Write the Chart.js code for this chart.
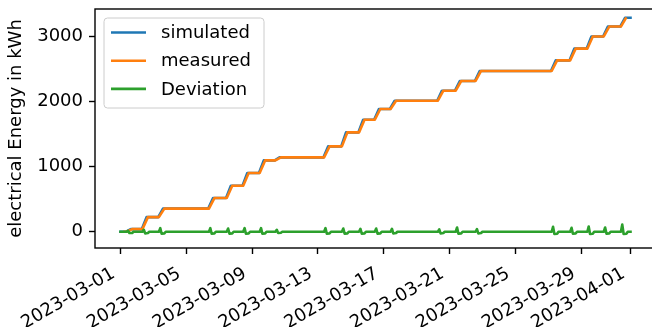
<!DOCTYPE html>
<html>
<head>
<meta charset="utf-8">
<script src="https://cdn.jsdelivr.net/npm/chart.js@4.4.1/dist/chart.umd.min.js"></script>
<style>
  html, body { margin: 0; padding: 0; background: #fff; overflow: hidden; }
  #wrap { width: 652px; height: 327px; overflow: hidden; }
  canvas { display: block; }
</style>
</head>
<body>
<div id="wrap"><canvas id="energy" width="662" height="327"></canvas></div>
<script>
// ---- data -------------------------------------------------------------
const START = '2023-03-01 00:00';

const xTickLabels = ['2023-03-01', '2023-03-05', '2023-03-09', '2023-03-13', '2023-03-17',
                     '2023-03-21', '2023-03-25', '2023-03-29', '2023-04-01'];
const yTickValues = [0, 1000, 2000, 3000];

const simulatedTimes = [
  '2023-03-01 00:00', '2023-03-01 08:00', '2023-03-01 15:00',
  '2023-03-02 07:00', '2023-03-02 14:00', '2023-03-03 07:00', '2023-03-03 14:00',
  '2023-03-06 08:00', '2023-03-06 15:00', '2023-03-07 10:00', '2023-03-07 17:00',
  '2023-03-08 10:00', '2023-03-08 17:00', '2023-03-09 10:00', '2023-03-09 17:00',
  '2023-03-10 09:00', '2023-03-10 16:00', '2023-03-13 08:00', '2023-03-13 15:00',
  '2023-03-14 10:00', '2023-03-14 17:00', '2023-03-15 11:00', '2023-03-15 18:00',
  '2023-03-16 10:00', '2023-03-16 17:00', '2023-03-17 09:00', '2023-03-17 16:00',
  '2023-03-20 06:00', '2023-03-20 13:00', '2023-03-21 08:00', '2023-03-21 15:00',
  '2023-03-22 13:00', '2023-03-22 20:00', '2023-03-27 04:00', '2023-03-27 11:00',
  '2023-03-28 07:00', '2023-03-28 14:00', '2023-03-29 08:00', '2023-03-29 15:00',
  '2023-03-30 08:00', '2023-03-30 15:00', '2023-03-31 09:00', '2023-03-31 16:00',
  '2023-04-01 00:00'
];
const simulatedValues = [
  0, 0, 40,
  40, 225, 225, 355,
  355, 518, 518, 708,
  708, 903, 903, 1097,
  1097, 1143, 1143, 1313,
  1313, 1528, 1528, 1723,
  1723, 1887, 1887, 2015,
  2015, 2169, 2169, 2318,
  2318, 2472, 2472, 2635,
  2635, 2815, 2815, 3003,
  3003, 3155, 3155, 3290,
  3290
];

const measuredTimes = [
  '2023-03-01 06:00', '2023-03-01 09:00', '2023-03-01 17:00',
  '2023-03-02 08:00', '2023-03-02 16:00', '2023-03-03 08:00', '2023-03-03 16:00',
  '2023-03-06 09:00', '2023-03-06 17:00', '2023-03-07 11:00', '2023-03-07 19:00',
  '2023-03-08 11:00', '2023-03-08 19:00', '2023-03-09 11:00', '2023-03-09 19:00',
  '2023-03-10 10:00', '2023-03-10 18:00', '2023-03-13 09:00', '2023-03-13 17:00',
  '2023-03-14 11:00', '2023-03-14 19:00', '2023-03-15 12:00', '2023-03-15 20:00',
  '2023-03-16 11:00', '2023-03-16 19:00', '2023-03-17 10:00', '2023-03-17 18:00',
  '2023-03-20 07:00', '2023-03-20 15:00', '2023-03-21 09:00', '2023-03-21 17:00',
  '2023-03-22 14:00', '2023-03-22 22:00', '2023-03-27 05:00', '2023-03-27 13:00',
  '2023-03-28 08:00', '2023-03-28 16:00', '2023-03-29 09:00', '2023-03-29 17:00',
  '2023-03-30 09:00', '2023-03-30 17:00', '2023-03-31 10:00', '2023-03-31 17:00'
];
const measuredValues = [
  0, 0, 40,
  40, 225, 225, 355,
  355, 518, 518, 708,
  708, 903, 903, 1097,
  1097, 1143, 1143, 1313,
  1313, 1528, 1528, 1723,
  1723, 1887, 1887, 2015,
  2015, 2169, 2169, 2318,
  2318, 2472, 2472, 2635,
  2635, 2815, 2815, 3003,
  3003, 3155, 3155, 3278
];

// deviation: each working day shows a short peak followed by a shallow dip
const deviationTimes = [
  '2023-03-01 00:00',
  '2023-03-01 09:00', '2023-03-01 11:00', '2023-03-01 13:00', '2023-03-01 17:00', '2023-03-01 19:00',
  '2023-03-02 08:00', '2023-03-02 10:00', '2023-03-02 12:00', '2023-03-02 16:00', '2023-03-02 18:00',
  '2023-03-03 08:00', '2023-03-03 10:00', '2023-03-03 12:00', '2023-03-03 16:00', '2023-03-03 18:00',
  '2023-03-06 09:00', '2023-03-06 11:00', '2023-03-06 13:00', '2023-03-06 17:00', '2023-03-06 19:00',
  '2023-03-07 11:00', '2023-03-07 13:00', '2023-03-07 15:00', '2023-03-07 19:00', '2023-03-07 21:00',
  '2023-03-08 11:00', '2023-03-08 13:00', '2023-03-08 15:00', '2023-03-08 19:00', '2023-03-08 21:00',
  '2023-03-09 11:00', '2023-03-09 13:00', '2023-03-09 15:00', '2023-03-09 19:00', '2023-03-09 21:00',
  '2023-03-10 10:00', '2023-03-10 12:00', '2023-03-10 14:00', '2023-03-10 18:00', '2023-03-10 20:00',
  '2023-03-13 09:00', '2023-03-13 11:00', '2023-03-13 13:00', '2023-03-13 17:00', '2023-03-13 19:00',
  '2023-03-14 11:00', '2023-03-14 13:00', '2023-03-14 15:00', '2023-03-14 19:00', '2023-03-14 21:00',
  '2023-03-15 12:00', '2023-03-15 14:00', '2023-03-15 16:00', '2023-03-15 20:00', '2023-03-15 22:00',
  '2023-03-16 11:00', '2023-03-16 13:00', '2023-03-16 15:00', '2023-03-16 19:00', '2023-03-16 21:00',
  '2023-03-17 10:00', '2023-03-17 12:00', '2023-03-17 14:00', '2023-03-17 18:00', '2023-03-17 20:00',
  '2023-03-20 07:00', '2023-03-20 09:00', '2023-03-20 11:00', '2023-03-20 15:00', '2023-03-20 17:00',
  '2023-03-21 09:00', '2023-03-21 11:00', '2023-03-21 13:00', '2023-03-21 17:00', '2023-03-21 19:00',
  '2023-03-22 14:00', '2023-03-22 16:00', '2023-03-22 18:00', '2023-03-22 22:00', '2023-03-23 00:00',
  '2023-03-27 05:00', '2023-03-27 07:00', '2023-03-27 09:00', '2023-03-27 13:00', '2023-03-27 15:00',
  '2023-03-28 08:00', '2023-03-28 10:00', '2023-03-28 12:00', '2023-03-28 16:00', '2023-03-28 18:00',
  '2023-03-29 09:00', '2023-03-29 11:00', '2023-03-29 13:00', '2023-03-29 17:00', '2023-03-29 19:00',
  '2023-03-30 09:00', '2023-03-30 11:00', '2023-03-30 13:00', '2023-03-30 17:00', '2023-03-30 19:00',
  '2023-03-31 10:00', '2023-03-31 12:00', '2023-03-31 14:00', '2023-03-31 18:00', '2023-03-31 20:00',
  '2023-04-01 00:00'
];
const deviationValues = [
  0,
  0, 15, -20, -20, 0,
  0, 30, -25, -20, 0,
  0, 55, -30, -25, 0,
  0, 55, -30, -25, 0,
  0, 50, -30, -25, 0,
  0, 55, -30, -25, 0,
  0, 55, -30, -25, 0,
  0, 30, -20, -15, 0,
  0, 55, -30, -25, 0,
  0, 50, -30, -25, 0,
  0, 45, -30, -25, 0,
  0, 50, -30, -25, 0,
  0, 45, -25, -20, 0,
  0, 35, -25, -20, 0,
  0, 65, -30, -25, 0,
  0, 40, -25, -20, 0,
  0, 75, -35, -30, 0,
  0, 60, -30, -25, 0,
  0, 80, -35, -30, 0,
  0, 65, -30, -25, 0,
  0, 110, -35, -30, 0,
  0
];

// ---- helpers ------------------------------------------------------------
const DAY_MS = 864e5;
const parseStamp = s => Date.parse(s.replace(' ', 'T') + ':00Z');
const t0 = parseStamp(START);
const toDay = s => (parseStamp(s) - t0) / DAY_MS;
const dayToLabel = d => new Date(t0 + Math.round(d * DAY_MS)).toISOString().slice(0, 10);
const toPoints = (times, values) => times.map((t, i) => ({ x: toDay(t), y: values[i] }));

const FONT_SIZE = 18;
const FONT_FAMILY = "'DejaVu Sans', sans-serif";
Chart.defaults.font.family = FONT_FAMILY;
Chart.defaults.font.size = FONT_SIZE;
Chart.defaults.color = '#000';

// axes frame (all four spines)
const frame = {
  id: 'frame',
  afterDatasetsDraw(chart) {
    const { ctx, chartArea: a } = chart;
    ctx.save();
    ctx.strokeStyle = '#000';
    ctx.lineWidth = 1.4;
    ctx.strokeRect(a.left, a.top, a.right - a.left, a.bottom - a.top);
    ctx.restore();
  }
};

// legend box in the upper-left corner of the axes
const legendBox = {
  id: 'legendBox',
  afterDraw(chart) {
    const { ctx, chartArea: a } = chart;
    const x = a.left + 9, y = a.top + 9, w = 160, h = 90;
    ctx.save();
    ctx.beginPath();
    ctx.roundRect(x, y, w, h, 3.5);
    ctx.fillStyle = 'rgba(255,255,255,0.8)';
    ctx.fill();
    ctx.lineWidth = 1;
    ctx.strokeStyle = '#cccccc';
    ctx.stroke();
    ctx.font = FONT_SIZE + 'px ' + FONT_FAMILY;
    ctx.textBaseline = 'middle';
    ctx.textAlign = 'left';
    chart.data.datasets.forEach((ds, i) => {
      const cy = y + 14.5 + i * 28.2;
      ctx.beginPath();
      ctx.moveTo(x + 7, cy);
      ctx.lineTo(x + 42, cy);
      ctx.strokeStyle = ds.borderColor;
      ctx.lineWidth = 2.6;
      ctx.lineCap = 'butt';
      ctx.stroke();
      ctx.fillStyle = '#000';
      ctx.fillText(ds.label, x + 57, cy + 1);
    });
    ctx.restore();
  }
};

const lineStyle = { borderWidth: 2.6, pointRadius: 0, tension: 0, fill: false,
                    borderJoinStyle: 'round', borderCapStyle: 'square' };

new Chart(document.getElementById('energy'), {
  type: 'line',
  data: {
    datasets: [
      { label: 'simulated', data: toPoints(simulatedTimes, simulatedValues),
        borderColor: '#1f77b4', order: 3, ...lineStyle },
      { label: 'measured', data: toPoints(measuredTimes, measuredValues),
        borderColor: '#ff7f0e', order: 2, ...lineStyle },
      { label: 'Deviation', data: toPoints(deviationTimes, deviationValues),
        borderColor: '#2ca02c', order: 1, ...lineStyle }
    ]
  },
  options: {
    responsive: false,
    animation: false,
    devicePixelRatio: 1,
    layout: { padding: { top: 9, right: 6, left: 0, bottom: 0 } },
    plugins: { legend: { display: false }, tooltip: { enabled: false } },
    scales: {
      x: {
        type: 'linear',
        min: -1.55,
        max: 32.55,
        border: { display: false },
        grid: { display: true, drawOnChartArea: false, drawTicks: true,
                tickLength: 6, tickWidth: 1.4, tickColor: '#000' },
        ticks: {
          autoSkip: false, minRotation: 30, maxRotation: 30, padding: 9,
          labelOffset: -7, color: '#000',
          callback: v => dayToLabel(v)
        },
        afterBuildTicks: s => { s.ticks = xTickLabels.map(l => ({ value: toDay(l + ' 00:00') })); },
        afterFit: s => { s.height = 79; s.paddingLeft = 0; s.paddingRight = 0; }
      },
      y: {
        type: 'linear',
        min: -250,
        max: 3425,
        border: { display: false },
        grid: { display: true, drawOnChartArea: false, drawTicks: true,
                tickLength: 6, tickWidth: 1.4, tickColor: '#000' },
        ticks: { padding: 6, color: '#000', callback: v => String(v) },
        afterBuildTicks: s => { s.ticks = yTickValues.map(v => ({ value: v })); },
        afterFit: s => { s.width = 95; s.paddingTop = 0; s.paddingBottom = 0; },
        title: { display: true, text: 'electrical Energy in kWh', color: '#000',
                 padding: { top: 6, bottom: 0 } }
      }
    }
  },
  plugins: [frame, legendBox]
});
</script>
</body>
</html>
